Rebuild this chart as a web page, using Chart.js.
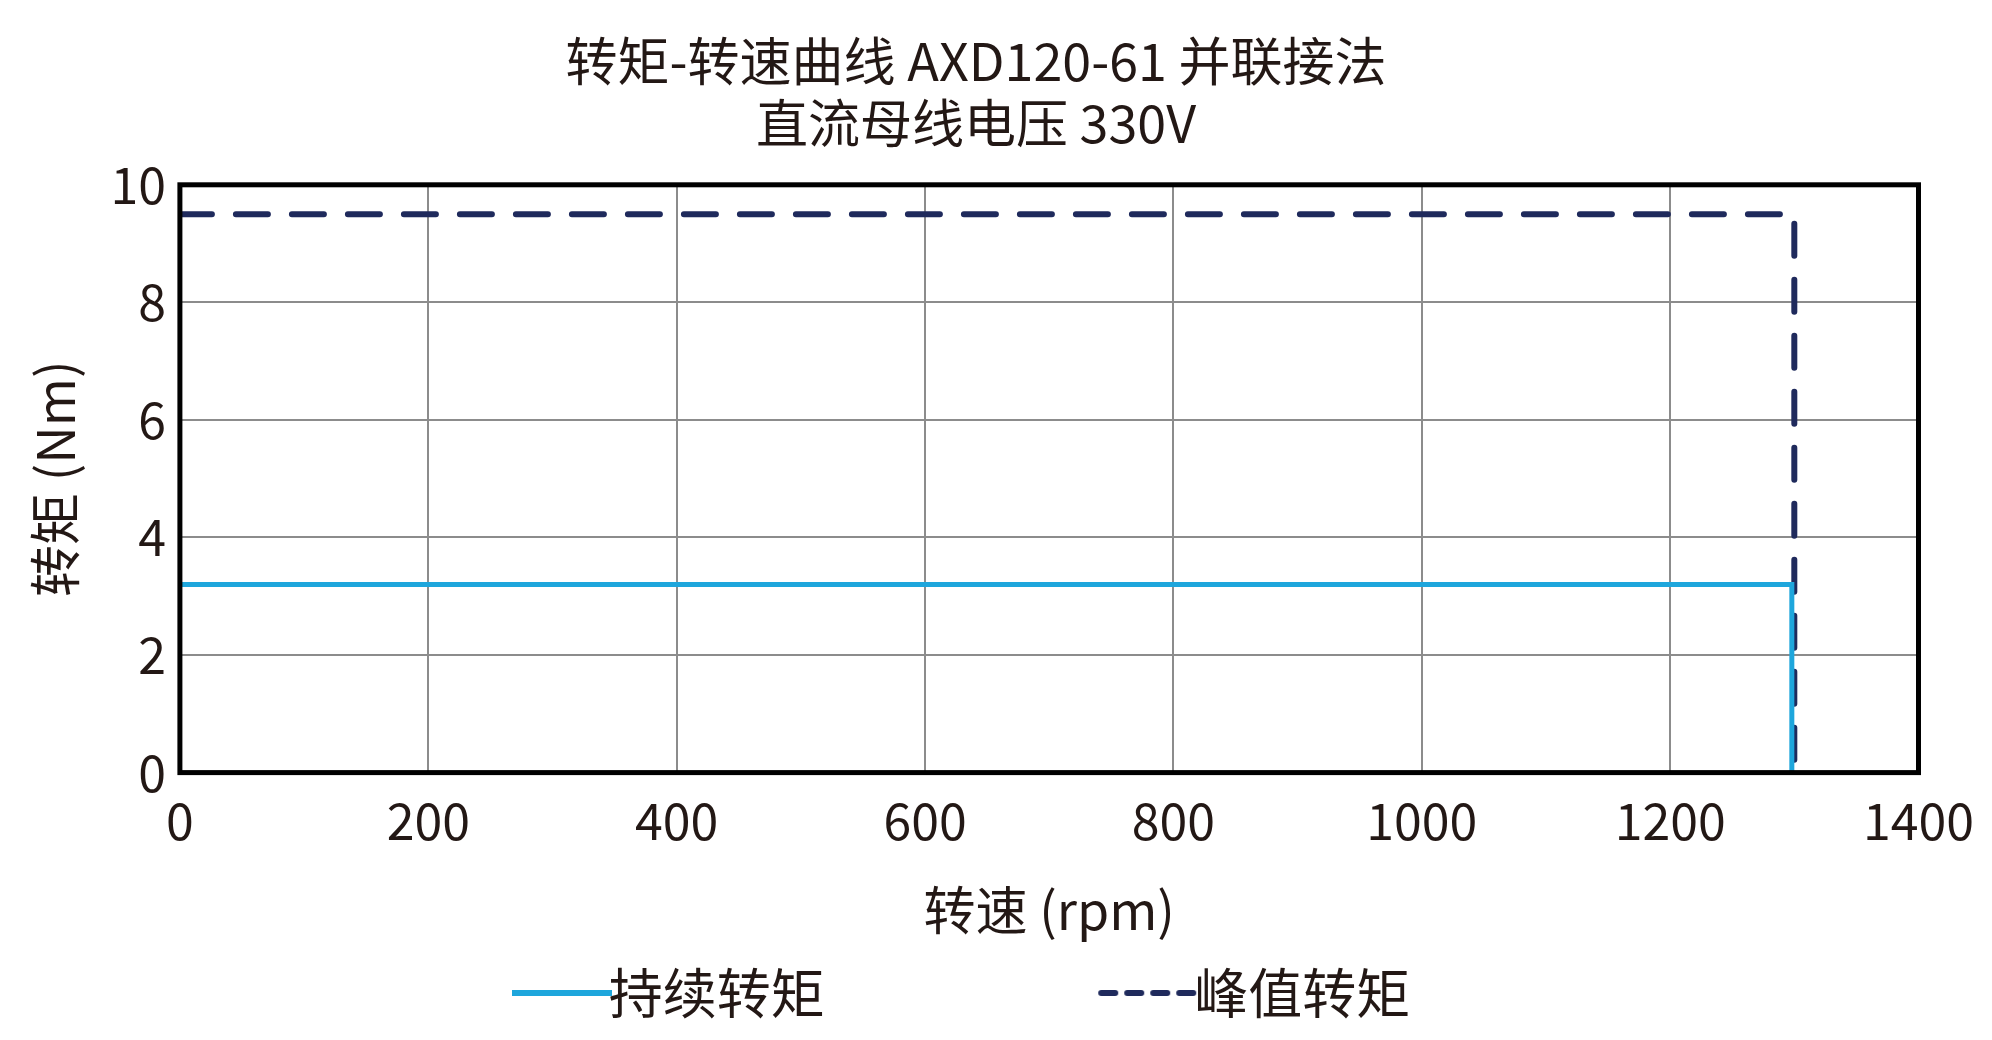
<!DOCTYPE html>
<html><head><meta charset="utf-8">
<script src="https://cdn.jsdelivr.net/npm/chart.js@4"></script>
<style>html,body{margin:0;background:#fff}#w{width:1992px;height:1040px}</style>
</head><body><div id="w"><canvas id="c"></canvas></div>
<script>
const contSpeed = [0, 1298, 1298];
const contTorque = [3.2, 3.2, 0];
const peakSpeed = [0, 1300, 1300];
const peakTorque = [9.5, 9.5, 0];
const seriesNames = ['持续转矩', '峰值转矩'];
const F = '"Noto Sans CJK SC", "Noto Sans", sans-serif';
function icon(color, dash){const c=document.createElement('canvas');c.width=100;c.height=10;const x=c.getContext('2d');x.strokeStyle=color;x.lineWidth=6;x.lineCap=dash?'round':'butt';x.setLineDash(dash||[]);x.beginPath();x.moveTo(dash?4:0,5);x.lineTo(100,5);x.stroke();return c;}
const frame = {id:'frame', afterDatasetsDraw(ch){const a=ch.chartArea,x=ch.ctx;x.save();x.strokeStyle='#000';x.lineWidth=5;x.strokeRect(a.left,a.top,a.right-a.left,a.bottom-a.top);x.restore();}};
new Chart(document.getElementById('c'), {
  type: 'scatter',
  data: { datasets: [
    { label: seriesNames[0], data: contSpeed.map((s,i)=>({x:s,y:contTorque[i]})), showLine:true, borderColor:'#1ea6dc', backgroundColor:'#1ea6dc', borderWidth:5, pointRadius:0, pointStyle:icon('#1ea6dc') },
    { label: seriesNames[1], data: peakSpeed.map((s,i)=>({x:s,y:peakTorque[i]})), showLine:true, borderColor:'#1f2a5c', backgroundColor:'#1f2a5c', borderWidth:6, borderDash:[32,24], borderCapStyle:'round', pointRadius:0, pointStyle:icon('#1f2a5c',[14,12]) }
  ]},
  options: {
    responsive:true, maintainAspectRatio:false, animation:false,
    layout:{padding:{left:20,right:60,top:20,bottom:10}},
    plugins: {
      title:{display:true, text:['转矩-转速曲线 AXD120-61 并联接法','直流母线电压 330V'], color:'#231815', font:{family:F,size:52,weight:'normal'}, padding:{top:10,bottom:30}, lineHeight:1.55},
      legend:{position:'bottom', labels:{color:'#231815', font:{family:F,size:54}, usePointStyle:true, padding:0, generateLabels(ch){return ch.data.datasets.map((d,i)=>({text:d.label+(i===0?'                         ':''),pointStyle:d.pointStyle,datasetIndex:i,fontColor:'#231815',lineWidth:0,strokeStyle:'transparent',fillStyle:'transparent'}));}}},
      tooltip:{enabled:false}
    },
    scales: {
      x:{type:'linear', min:0, max:1400, ticks:{stepSize:200, color:'#231815', font:{family:F,size:50}, padding:18, callback:v=>String(v)}, grid:{color:'#8c8c8c', lineWidth:2, drawTicks:false}, border:{display:false},
         title:{display:true, text:'转速 (rpm)', color:'#231815', font:{family:F,size:52}, padding:{top:10,bottom:25}}},
      y:{min:0, max:10, ticks:{stepSize:2, color:'#231815', font:{family:F,size:50}, padding:14}, grid:{color:'#8c8c8c', lineWidth:2, drawTicks:false}, border:{display:false},
         title:{display:true, text:'转矩 (Nm)', color:'#231815', font:{family:F,size:52}, padding:{bottom:10}}}
    }
  },
  plugins:[frame]
});
</script></body></html>
